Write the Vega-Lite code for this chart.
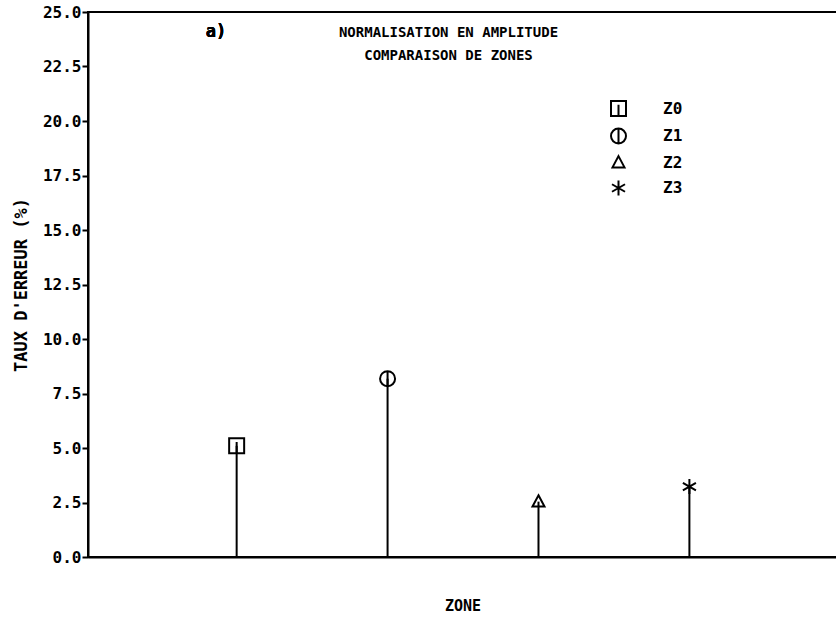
{
  "$schema": "https://vega.github.io/schema/vega-lite/v6.json",
  "autosize": "none",
  "padding": {"left": 88, "top": 12, "right": 0, "bottom": 64},
  "width": 749,
  "height": 545,
  "background": "white",
  "title": {
    "text": ["NORMALISATION EN AMPLITUDE", "COMPARAISON DE ZONES"],
    "anchor": "middle",
    "frame": "group",
    "orient": "top",
    "offset": 0,
    "baseline": "top",
    "dx": -14,
    "dy": 59,
    "lineHeight": 23,
    "font": "DejaVu Sans Mono",
    "fontSize": 14,
    "fontWeight": "bold",
    "color": "black"
  },
  "data": {
    "values": [
      {"zone": "Z0", "idx": 1, "taux": 5.1},
      {"zone": "Z1", "idx": 2, "taux": 8.18},
      {"zone": "Z2", "idx": 3, "taux": 2.54},
      {"zone": "Z3", "idx": 4, "taux": 3.23}
    ]
  },
  "layer": [
    {
      "mark": {"type": "rule", "color": "black", "strokeWidth": 2},
      "encoding": {
        "x": {
          "field": "idx",
          "type": "quantitative",
          "scale": {"domain": [0.015, 4.978], "nice": false, "zero": false},
          "axis": {
            "title": "ZONE",
            "labels": false,
            "ticks": false,
            "grid": false,
            "domainColor": "black",
            "domainWidth": 2,
            "titleFont": "DejaVu Sans Mono",
            "titleFontSize": 15,
            "titleFontWeight": "bold",
            "titleColor": "black",
            "titlePadding": 41
          }
        },
        "y": {
          "field": "taux",
          "type": "quantitative",
          "scale": {"domain": [0, 25], "nice": false},
          "axis": {
            "title": "TAUX D'ERREUR (%)",
            "values": [0, 2.5, 5, 7.5, 10, 12.5, 15, 17.5, 20, 22.5, 25],
            "format": ".1f",
            "grid": false,
            "tickSize": 6,
            "tickWidth": 2,
            "tickColor": "black",
            "domainColor": "black",
            "domainWidth": 2,
            "labelPadding": 1,
            "labelFont": "DejaVu Sans Mono",
            "labelFontSize": 16,
            "labelFontWeight": "bold",
            "labelColor": "black",
            "titleFont": "DejaVu Sans Mono",
            "titleFontSize": 17,
            "titleFontWeight": "bold",
            "titleColor": "black",
            "titlePadding": 12
          }
        },
        "y2": {"datum": 0}
      }
    },
    {
      "mark": {"type": "point", "filled": false, "strokeWidth": 2, "color": "black", "opacity": 1},
      "encoding": {
        "x": {"field": "idx", "type": "quantitative"},
        "y": {"field": "taux", "type": "quantitative"},
        "size": {"value": 225},
        "shape": {
          "field": "zone",
          "type": "nominal",
          "scale": {
            "domain": ["Z0", "Z1", "Z2", "Z3"],
            "range": [
              "M-1,-1H1V1H-1Z M0,-0.5V1",
              "M-1,0A1,1 0 1,1 1,0A1,1 0 1,1 -1,0Z M0,-1V1",
              "M0,-0.85L0.8,0.65H-0.8Z",
              "M0,-1V1M-0.87,-0.5L0.87,0.5M-0.87,0.5L0.87,-0.5"
            ]
          },
          "legend": {
            "title": null,
            "orient": "none",
            "legendX": 522,
            "legendY": 88,
            "symbolSize": 225,
            "symbolStrokeWidth": 2,
            "symbolStrokeColor": "black",
            "symbolFillColor": "transparent",
            "rowPadding": 4.5,
            "labelOffset": 36,
            "labelFont": "DejaVu Sans Mono",
            "labelFontSize": 16,
            "labelFontWeight": "bold",
            "labelColor": "black"
          }
        }
      }
    },
    {
      "mark": {"type": "text", "font": "DejaVu Sans Mono", "fontSize": 17, "fontWeight": "bold", "color": "black", "baseline": "middle", "align": "center"},
      "encoding": {
        "x": {"datum": 0.863, "type": "quantitative"},
        "y": {"datum": 24.08, "type": "quantitative"},
        "text": {"value": "a)"}
      }
    }
  ],
  "config": {
    "view": {"stroke": "black", "strokeWidth": 2}
  }
}
